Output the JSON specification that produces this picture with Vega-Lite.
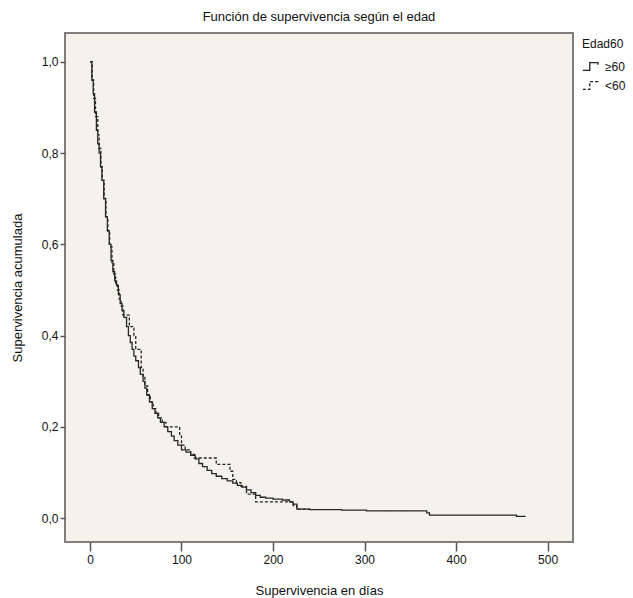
{
  "$schema": "https://vega.github.io/schema/vega-lite/v6.json",
  "width": 508,
  "height": 509,
  "autosize": {"type": "none"},
  "padding": {"left": 65, "top": 33, "right": 60, "bottom": 56},
  "background": "white",
  "title": {"text": "Función de supervivencia según el edad", "fontSize": 13, "fontWeight": "normal", "font": "Liberation Sans", "color": "#111111", "offset": 9, "anchor": "middle"},
  "config": {
    "view": {"fill": "#F5F2EB", "stroke": "#7F7F7F", "strokeWidth": 2},
    "font": "Liberation Sans"
  },
  "data": {"values": [
    {"dias": 0, "s": 1.0, "grupo": "≥60"},
    {"dias": 2, "s": 0.96, "grupo": "≥60"},
    {"dias": 3.5, "s": 0.93, "grupo": "≥60"},
    {"dias": 5, "s": 0.89, "grupo": "≥60"},
    {"dias": 7, "s": 0.85, "grupo": "≥60"},
    {"dias": 8.5, "s": 0.82, "grupo": "≥60"},
    {"dias": 10, "s": 0.80, "grupo": "≥60"},
    {"dias": 11.5, "s": 0.77, "grupo": "≥60"},
    {"dias": 13, "s": 0.74, "grupo": "≥60"},
    {"dias": 15, "s": 0.70, "grupo": "≥60"},
    {"dias": 17, "s": 0.66, "grupo": "≥60"},
    {"dias": 19, "s": 0.63, "grupo": "≥60"},
    {"dias": 21, "s": 0.60, "grupo": "≥60"},
    {"dias": 23, "s": 0.565, "grupo": "≥60"},
    {"dias": 25, "s": 0.54, "grupo": "≥60"},
    {"dias": 27, "s": 0.52, "grupo": "≥60"},
    {"dias": 29, "s": 0.51, "grupo": "≥60"},
    {"dias": 31, "s": 0.49, "grupo": "≥60"},
    {"dias": 33, "s": 0.47, "grupo": "≥60"},
    {"dias": 35, "s": 0.455, "grupo": "≥60"},
    {"dias": 37, "s": 0.44, "grupo": "≥60"},
    {"dias": 40, "s": 0.42, "grupo": "≥60"},
    {"dias": 42, "s": 0.40, "grupo": "≥60"},
    {"dias": 44, "s": 0.385, "grupo": "≥60"},
    {"dias": 46, "s": 0.37, "grupo": "≥60"},
    {"dias": 48, "s": 0.355, "grupo": "≥60"},
    {"dias": 50, "s": 0.345, "grupo": "≥60"},
    {"dias": 53, "s": 0.33, "grupo": "≥60"},
    {"dias": 55, "s": 0.315, "grupo": "≥60"},
    {"dias": 58, "s": 0.30, "grupo": "≥60"},
    {"dias": 60, "s": 0.285, "grupo": "≥60"},
    {"dias": 62, "s": 0.27, "grupo": "≥60"},
    {"dias": 65, "s": 0.255, "grupo": "≥60"},
    {"dias": 68, "s": 0.24, "grupo": "≥60"},
    {"dias": 71, "s": 0.23, "grupo": "≥60"},
    {"dias": 74, "s": 0.22, "grupo": "≥60"},
    {"dias": 77, "s": 0.21, "grupo": "≥60"},
    {"dias": 81, "s": 0.20, "grupo": "≥60"},
    {"dias": 85, "s": 0.19, "grupo": "≥60"},
    {"dias": 89, "s": 0.18, "grupo": "≥60"},
    {"dias": 92, "s": 0.17, "grupo": "≥60"},
    {"dias": 96, "s": 0.16, "grupo": "≥60"},
    {"dias": 100, "s": 0.15, "grupo": "≥60"},
    {"dias": 105, "s": 0.145, "grupo": "≥60"},
    {"dias": 110, "s": 0.138, "grupo": "≥60"},
    {"dias": 115, "s": 0.13, "grupo": "≥60"},
    {"dias": 119, "s": 0.12, "grupo": "≥60"},
    {"dias": 123, "s": 0.113, "grupo": "≥60"},
    {"dias": 128, "s": 0.105, "grupo": "≥60"},
    {"dias": 133, "s": 0.098, "grupo": "≥60"},
    {"dias": 138, "s": 0.092, "grupo": "≥60"},
    {"dias": 144, "s": 0.087, "grupo": "≥60"},
    {"dias": 150, "s": 0.082, "grupo": "≥60"},
    {"dias": 156, "s": 0.077, "grupo": "≥60"},
    {"dias": 161, "s": 0.072, "grupo": "≥60"},
    {"dias": 166, "s": 0.068, "grupo": "≥60"},
    {"dias": 171, "s": 0.062, "grupo": "≥60"},
    {"dias": 176, "s": 0.056, "grupo": "≥60"},
    {"dias": 181, "s": 0.05, "grupo": "≥60"},
    {"dias": 186, "s": 0.046, "grupo": "≥60"},
    {"dias": 192, "s": 0.044, "grupo": "≥60"},
    {"dias": 200, "s": 0.042, "grupo": "≥60"},
    {"dias": 210, "s": 0.04, "grupo": "≥60"},
    {"dias": 218, "s": 0.036, "grupo": "≥60"},
    {"dias": 222, "s": 0.031, "grupo": "≥60"},
    {"dias": 226, "s": 0.02, "grupo": "≥60"},
    {"dias": 240, "s": 0.019, "grupo": "≥60"},
    {"dias": 275, "s": 0.018, "grupo": "≥60"},
    {"dias": 302, "s": 0.016, "grupo": "≥60"},
    {"dias": 368, "s": 0.012, "grupo": "≥60"},
    {"dias": 371, "s": 0.007, "grupo": "≥60"},
    {"dias": 466, "s": 0.004, "grupo": "≥60"},
    {"dias": 476, "s": 0.004, "grupo": "≥60"},
    {"dias": 0, "s": 1.0, "grupo": "<60"},
    {"dias": 2.5, "s": 0.96, "grupo": "<60"},
    {"dias": 4, "s": 0.92, "grupo": "<60"},
    {"dias": 6, "s": 0.88, "grupo": "<60"},
    {"dias": 8.5, "s": 0.84, "grupo": "<60"},
    {"dias": 10, "s": 0.81, "grupo": "<60"},
    {"dias": 12, "s": 0.77, "grupo": "<60"},
    {"dias": 13.5, "s": 0.74, "grupo": "<60"},
    {"dias": 15.5, "s": 0.70, "grupo": "<60"},
    {"dias": 17.5, "s": 0.66, "grupo": "<60"},
    {"dias": 19.5, "s": 0.625, "grupo": "<60"},
    {"dias": 21.5, "s": 0.595, "grupo": "<60"},
    {"dias": 24, "s": 0.56, "grupo": "<60"},
    {"dias": 26, "s": 0.535, "grupo": "<60"},
    {"dias": 28, "s": 0.515, "grupo": "<60"},
    {"dias": 30, "s": 0.50, "grupo": "<60"},
    {"dias": 32, "s": 0.48, "grupo": "<60"},
    {"dias": 34, "s": 0.465, "grupo": "<60"},
    {"dias": 36, "s": 0.445, "grupo": "<60"},
    {"dias": 43, "s": 0.42, "grupo": "<60"},
    {"dias": 48, "s": 0.40, "grupo": "<60"},
    {"dias": 50, "s": 0.37, "grupo": "<60"},
    {"dias": 56, "s": 0.33, "grupo": "<60"},
    {"dias": 58, "s": 0.31, "grupo": "<60"},
    {"dias": 60, "s": 0.29, "grupo": "<60"},
    {"dias": 63, "s": 0.27, "grupo": "<60"},
    {"dias": 66, "s": 0.255, "grupo": "<60"},
    {"dias": 69, "s": 0.24, "grupo": "<60"},
    {"dias": 72, "s": 0.23, "grupo": "<60"},
    {"dias": 75, "s": 0.22, "grupo": "<60"},
    {"dias": 79, "s": 0.21, "grupo": "<60"},
    {"dias": 83, "s": 0.20, "grupo": "<60"},
    {"dias": 98, "s": 0.18, "grupo": "<60"},
    {"dias": 100, "s": 0.16, "grupo": "<60"},
    {"dias": 104, "s": 0.15, "grupo": "<60"},
    {"dias": 110, "s": 0.14, "grupo": "<60"},
    {"dias": 114, "s": 0.132, "grupo": "<60"},
    {"dias": 138, "s": 0.118, "grupo": "<60"},
    {"dias": 153, "s": 0.103, "grupo": "<60"},
    {"dias": 156, "s": 0.085, "grupo": "<60"},
    {"dias": 160, "s": 0.078, "grupo": "<60"},
    {"dias": 165, "s": 0.07, "grupo": "<60"},
    {"dias": 171, "s": 0.053, "grupo": "<60"},
    {"dias": 181, "s": 0.036, "grupo": "<60"},
    {"dias": 222, "s": 0.028, "grupo": "<60"},
    {"dias": 226, "s": 0.02, "grupo": "<60"},
    {"dias": 240, "s": 0.02, "grupo": "<60"}
  ]},
  "mark": {"type": "line", "interpolate": "step-after", "strokeWidth": 1.3, "color": "#262626"},
  "encoding": {
    "x": {
      "field": "dias", "type": "quantitative",
      "scale": {"domain": [-27.3, 527.8], "nice": false, "zero": false},
      "axis": {"title": "Supervivencia en días", "values": [0, 100, 200, 300, 400, 500], "grid": false, "domain": false,
        "tickSize": 9, "tickWidth": 1.5, "tickColor": "#555555", "labelFontSize": 12, "labelColor": "#111111", "labelPadding": 3,
        "titleFontSize": 13, "titleFontWeight": "normal", "titleColor": "#111111", "titlePadding": 19}
    },
    "y": {
      "field": "s", "type": "quantitative",
      "scale": {"domain": [-0.052, 1.063], "nice": false, "zero": false},
      "axis": {"title": "Supervivencia acumulada", "values": [0, 0.2, 0.4, 0.6, 0.8, 1.0], "grid": false, "domain": false,
        "labelExpr": "replace(format(datum.value, '.1f'), '.', ',')",
        "tickSize": 5, "tickWidth": 1.5, "tickColor": "#555555", "labelFontSize": 12, "labelColor": "#111111", "labelPadding": 2,
        "titleFontSize": 13, "titleFontWeight": "normal", "titleColor": "#111111", "titlePadding": 17}
    },
    "strokeDash": {
      "field": "grupo", "type": "nominal",
      "scale": {"domain": ["≥60", "<60"], "range": [[1, 0], [3, 2]]},
      "legend": {"title": "Edad60", "orient": "none", "legendX": 517, "legendY": 6,
        "titleFontSize": 12, "titleFontWeight": "normal", "titleColor": "#111111", "titlePadding": 6,
        "labelFontSize": 12, "labelColor": "#111111", "labelOffset": 4, "rowPadding": 3,
        "symbolType": "M-1,0.45H-0.2V-0.45H0.75V-0.2", "symbolSize": 300, "symbolStrokeWidth": 1.3, "symbolStrokeColor": "#222222", "symbolFillColor": "transparent"}
    }
  }
}
